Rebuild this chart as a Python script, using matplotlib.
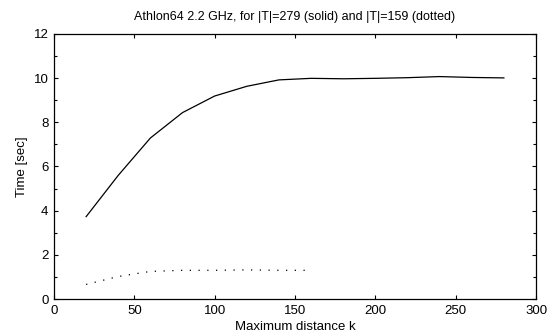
import numpy as np
import matplotlib
matplotlib.use("Agg")
import matplotlib.pyplot as plt
from matplotlib.ticker import MultipleLocator

plt.rcParams['font.family'] = ['Liberation Sans', 'DejaVu Sans']
plt.rcParams['font.size'] = 9.5

# solid: |T|=279
k_solid = [20, 40, 60, 80, 100, 120, 140, 160, 180, 200, 220, 240, 260, 280]
t_solid = [3.73, 5.6, 7.29, 8.44, 9.19, 9.63, 9.92, 9.99, 9.97, 9.99, 10.02, 10.07, 10.03, 10.01]

# dotted: |T|=159
k_dot = [20, 40, 60, 80, 100, 120, 140, 160]
t_dot = [0.66, 1.02, 1.25, 1.3, 1.3, 1.32, 1.3, 1.3]

fig = plt.figure(figsize=(5.55, 3.36), dpi=100)
ax = fig.add_axes([0.0973, 0.110, 0.8685, 0.789])

ax.plot(k_solid, t_solid, color='black', lw=0.9)
ax.plot(k_dot, t_dot, color='black', lw=0.9, linestyle=(0, (1, 6)))

ax.set_xlim(0, 300)
ax.set_ylim(0, 12)
ax.xaxis.set_major_locator(MultipleLocator(50))
ax.yaxis.set_major_locator(MultipleLocator(2))
ax.yaxis.set_minor_locator(MultipleLocator(1))
ax.tick_params(which='both', direction='in', top=True, right=True, length=3, width=0.8, pad=4)
ax.tick_params(which='minor', length=2)
for s in ax.spines.values():
    s.set_linewidth(0.9)

ax.set_xlabel('Maximum distance k', labelpad=3)
ax.set_ylabel('Time [sec]', labelpad=4)
ax.set_title('Athlon64 2.2 GHz, for |T|=279 (solid) and |T|=159 (dotted)', fontsize=9, pad=10)

fig.savefig('out.png', dpi=100)
